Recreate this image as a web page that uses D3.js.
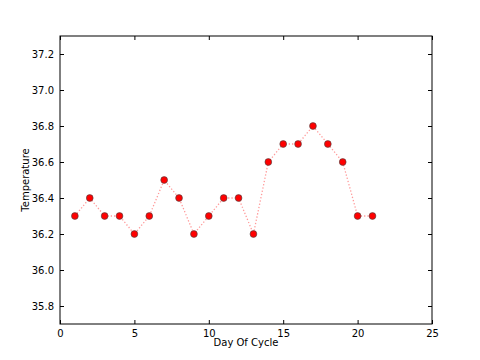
<!DOCTYPE html>
<html>
<head>
<meta charset="utf-8">
<script src="https://cdn.jsdelivr.net/npm/d3@7"></script>
<style>
  body { margin: 0; background: #fff; }
  svg { display: block; font-family: "DejaVu Sans", sans-serif; }
</style>
</head>
<body>
<svg width="480" height="360"></svg>
<script>
var days = [1, 2, 3, 4, 5, 6, 7, 8, 9, 10, 11, 12, 13, 14, 15, 16, 17, 18, 19, 20, 21];
var temps = [36.3, 36.4, 36.3, 36.3, 36.2, 36.3, 36.5, 36.4, 36.2, 36.3, 36.4, 36.4, 36.2, 36.6, 36.7, 36.7, 36.8, 36.7, 36.6, 36.3, 36.3];
var xTicks = [0, 5, 10, 15, 20, 25];
var yTicks = [35.8, 36.0, 36.2, 36.4, 36.6, 36.8, 37.0, 37.2];

var margin = { top: 36, right: 48, bottom: 36, left: 60 };
var svg = d3.select("svg");
var width = +svg.attr("width") - margin.left - margin.right;
var height = +svg.attr("height") - margin.top - margin.bottom;
var g = svg.append("g")
  .attr("transform", "translate(" + margin.left + "," + margin.top + ")");

var scaleX = d3.scaleLinear().domain([0, 25]).range([0, width]);
var scaleY = d3.scaleLinear().domain([35.7, 37.3]).range([height, 0]);

var data = days.map(function(d, i) { return { day: d, temp: temps[i] }; });

var line = d3.line()
  .x(function(d) { return scaleX(d.day); })
  .y(function(d) { return scaleY(d.temp); });

g.append("path")
  .datum(data)
  .attr("fill", "none")
  .attr("stroke", "#ff0000")
  .attr("stroke-opacity", 0.4)
  .attr("stroke-width", 1.3)
  .attr("stroke-dasharray", "1.3,2")
  .attr("d", line);

g.selectAll("circle")
  .data(data)
  .enter().append("circle")
  .attr("cx", function(d) { return scaleX(d.day); })
  .attr("cy", function(d) { return scaleY(d.temp); })
  .attr("r", 3.4)
  .attr("fill", "#ff0000")
  .attr("stroke", "#444")
  .attr("stroke-width", 0.6);

// axes, ticks pointing inward like matplotlib classic
var tickSize = 4;
g.append("g")
  .attr("class", "axis")
  .attr("transform", "translate(0," + height + ")")
  .call(d3.axisBottom(scaleX).tickValues(xTicks).tickSizeInner(-tickSize).tickSizeOuter(0).tickPadding(6).tickFormat(d3.format("d")));
g.append("g")
  .attr("class", "axis")
  .call(d3.axisTop(scaleX).tickValues(xTicks).tickSizeInner(-tickSize).tickSizeOuter(0).tickFormat(""));
g.append("g")
  .attr("class", "axis")
  .call(d3.axisLeft(scaleY).tickValues(yTicks).tickSizeInner(-tickSize).tickSizeOuter(0).tickPadding(6).tickFormat(d3.format(".1f")));
g.append("g")
  .attr("class", "axis")
  .attr("transform", "translate(" + width + ",0)")
  .call(d3.axisRight(scaleY).tickValues(yTicks).tickSizeInner(-tickSize).tickSizeOuter(0).tickFormat(""));

g.selectAll(".axis .domain").remove();
g.selectAll(".axis text")
  .attr("fill", "#000")
  .style("font-size", "10px")
  .style("font-family", "DejaVu Sans, sans-serif");
g.selectAll(".axis line").attr("stroke", "#000");

g.append("rect")
  .attr("width", width)
  .attr("height", height)
  .attr("fill", "none")
  .attr("stroke", "#000")
  .attr("stroke-width", 1);

svg.append("text")
  .attr("x", margin.left + width / 2)
  .attr("y", margin.top + height + 22)
  .attr("text-anchor", "middle")
  .style("font-size", "10px")
  .text("Day Of Cycle");

svg.append("text")
  .attr("transform", "translate(29," + (margin.top + height / 2) + ") rotate(-90)")
  .attr("text-anchor", "middle")
  .style("font-size", "10px")
  .text("Temperature");
</script>
</body>
</html>
